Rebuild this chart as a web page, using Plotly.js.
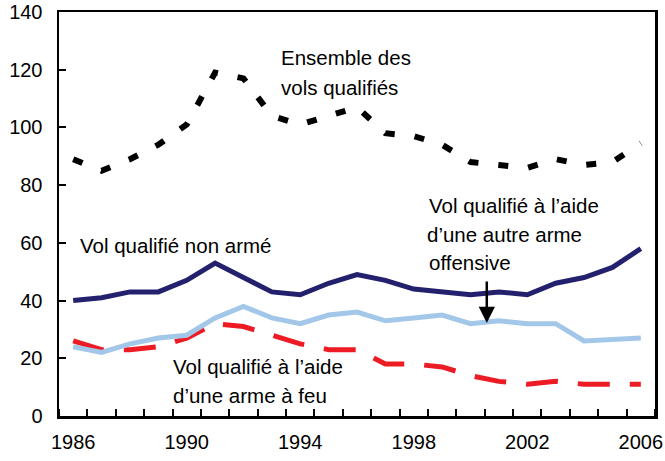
<!DOCTYPE html>
<html>
<head>
<meta charset="utf-8">
<script src="https://cdn.plot.ly/plotly-3.0.1.min.js"></script>
<style>html,body{margin:0;padding:0;background:#fff;}#chart{width:665px;height:461px;}</style>
</head>
<body>
<div id="chart"></div>
<script>
const years = [1986,1987,1988,1989,1990,1991,1992,1993,1994,1995,1996,1997,1998,1999,2000,2001,2002,2003,2004,2005,2006];
const ensemble = [89,85,89,94,101,119,117,104,101,104,107,98,97,94,88,87,86,89,87,88,94.5];
const nonArme = [40,41,43,43,47,53,48,43,42,46,49,47,44,43,42,43,42,46,48,51.5,58];
const autreArme = [24,22,25,27,28,34,38,34,32,35,36,33,34,35,32,33,32,32,26,26.5,27];
const armeFeu = [26,23,23,24,27,32,31,28,25,23,23,18,18,17,14,12,11,12,11,11,11];
const xLabels = [1986,1990,1994,1998,2002,2006];
const yTicks = [0,20,40,60,80,100,120,140];

const font = "Liberation Sans, Arial, Helvetica, sans-serif";

const traces = [
  {x: years, y: armeFeu, mode: 'lines', line: {color: 'rgb(237,28,36)', width: 5, dash: '32px,20px'}},
  {x: years, y: autreArme, mode: 'lines', line: {color: 'rgb(163,199,233)', width: 5}},
  {x: years, y: nonArme, mode: 'lines', line: {color: 'rgb(35,32,110)', width: 5}},
  {x: years, y: ensemble, mode: 'lines', line: {color: '#000', width: 6, dash: '10px,20px'}}
];

const boundaries = years.map(y => y - 0.5).concat([years[years.length-1] + 0.5]);

function lbl(text, px, py) {
  return {text: text, xref: 'paper', yref: 'paper', x: (px - 58.5) / 597, y: (416 - py) / 404,
    xanchor: 'left', yanchor: 'middle', showarrow: false, font: {family: font, size: 20.5, color: '#000'}};
}

const layout = {
  width: 665, height: 461,
  margin: {l: 58.5, r: 9.5, t: 12, b: 45},
  paper_bgcolor: '#fff', plot_bgcolor: '#fff',
  showlegend: false,
  font: {family: font, size: 20, color: '#000'},
  xaxis: {
    range: [years[0] - 0.5, years[years.length-1] + 0.5],
    tickmode: 'array', tickvals: xLabels, ticktext: xLabels.map(String),
    ticks: '', showgrid: false, zeroline: false,
    showline: true, linecolor: '#000', linewidth: 2.5, mirror: true,
    ticklabelstandoff: 6,
    tickfont: {family: font, size: 20, color: '#000'},
    minor: {tickmode: 'array', tickvals: boundaries, ticks: 'inside', ticklen: 7, tickwidth: 2, tickcolor: '#000', showgrid: false}
  },
  yaxis: {
    range: [0, 140], tickmode: 'array', tickvals: yTicks,
    ticks: 'inside', ticklen: 7, tickwidth: 2, tickcolor: '#000',
    showgrid: false, zeroline: false,
    showline: true, linecolor: '#000', linewidth: 2.5, mirror: true,
    ticklabelstandoff: 10,
    tickfont: {family: font, size: 20, color: '#000'}
  },
  annotations: [
    lbl('Ensemble des', 279, 58),
    lbl('vols qualifiés', 279, 87),
    lbl('Vol qualifié non armé', 78, 245),
    lbl('Vol qualifié à l’aide', 427, 205),
    lbl('d’une autre arme', 425, 234),
    lbl('offensive', 427, 262),
    lbl('Vol qualifié à l’aide', 171, 366),
    lbl('d’une arme à feu', 171, 395),
    {text: '', xref: 'paper', yref: 'paper', x: (487 - 58.5) / 597, y: (416 - 323) / 404,
     axref: 'pixel', ayref: 'pixel', ax: 0, ay: -43, showarrow: true,
     arrowhead: 2, arrowsize: 1.3, arrowwidth: 2.5, arrowcolor: '#000', standoff: 0}
  ]
};

Plotly.newPlot('chart', traces, layout, {displayModeBar: false, staticPlot: true});
</script>
</body>
</html>
